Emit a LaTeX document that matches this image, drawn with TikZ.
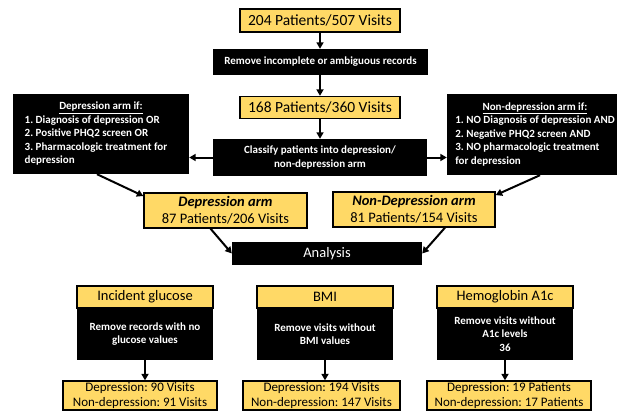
\documentclass[tikz,border=0pt]{standalone}
\usepackage{fontspec}
\setmainfont{Carlito}
\usetikzlibrary{arrows.meta,calc}
\definecolor{gold}{HTML}{FFD966}
\frenchspacing
\begin{document}
\begin{tikzpicture}[x=1pt,y=-1pt,
  ybox/.style={draw=black,line width=1.3pt,fill=gold,inner sep=0pt,align=center},
  bbox/.style={fill=black,text=white,inner sep=0pt,align=center},
  arr/.style={line width=2pt,-{Triangle[length=6.5pt,width=7pt]}},
  huge/.style={font=\fontsize{15.5}{18}\selectfont},
  big/.style={font=\fontsize{14.5}{17}\selectfont},
  small/.style={font=\fontsize{11}{13.5}\selectfont\bfseries},
  med/.style={font=\fontsize{13}{14.5}\selectfont}]
\useasboundingbox (0,0) rectangle (618,417);

\node[ybox,huge,minimum width=160pt,minimum height=23pt] (top) at (320,20.5) {204 Patients/507 Visits};
\node[bbox,small,minimum width=215pt,minimum height=26pt] (rem) at (320.5,62) {Remove incomplete or ambiguous records};
\node[ybox,huge,minimum width=160pt,minimum height=22pt] (mid) at (320,107.5) {168 Patients/360 Visits};
\node[bbox,small,minimum width=214pt,minimum height=37pt] (cls) at (320,157.5) {Classify patients into depression/\\non-depression arm};

\node[bbox,small,minimum width=176pt,minimum height=80pt] (lb) at (101,134)
  {\begin{tabular}{@{}l@{\hspace{10pt}}}
   \multicolumn{1}{@{\hspace{5pt}}c@{\hspace{5pt}}}{\underline{Depression arm if:}}\\
   1. Diagnosis of depression OR\\
   2. Positive PHQ2 screen OR\\
   3. Pharmacologic treatment for\\
   depression
   \end{tabular}};
\node[bbox,small,minimum width=170pt,minimum height=81pt] (rb) at (532,134.5)
  {\begin{tabular}{@{\hspace{6pt}}l@{}}
   \multicolumn{1}{@{\hspace{6pt}}c@{}}{\underline{Non-depression arm if:}}\\
   1. NO Diagnosis of depression AND\\
   2. Negative PHQ2 screen AND\\
   3. NO pharmacologic treatment\\
   for depression
   \end{tabular}};

\node[ybox,big,minimum width=163pt,minimum height=35pt] (dep) at (225.5,210.5) {\textbf{\textit{Depression arm}}\\87 Patients/206 Visits};
\node[ybox,big,minimum width=162pt,minimum height=35pt] (ndep) at (414,209.5) {\textbf{\textit{Non-Depression arm}}\\81 Patients/154 Visits};
\node[bbox,big,minimum width=190pt,minimum height=23pt] (ana) at (327,253.5) {Analysis};

\node[bbox,small,minimum width=136pt,minimum height=52pt] (gb) at (145,334) {Remove records with no\\glucose values};
\node[ybox,big,minimum width=136pt,minimum height=22pt] (gh) at (145,297) {Incident glucose};
\node[bbox,small,minimum width=136pt,minimum height=52pt] (bb) at (325,334) {Remove visits without\\BMI values};
\node[ybox,big,minimum width=136pt,minimum height=22pt] (bh) at (325,297) {BMI};
\node[bbox,small,minimum width=136pt,minimum height=52pt] (hb) at (505,334) {Remove visits without\\A1c levels\\36};
\node[ybox,big,minimum width=136pt,minimum height=22pt] (hh) at (505,297) {Hemoglobin A1c};

\node[ybox,med,minimum width=154pt,minimum height=29pt] (r1) at (140,395.5) {Depression: 90 Visits\\Non-depression: 91 Visits};
\node[ybox,med,minimum width=157pt,minimum height=29pt] (r2) at (321.5,395.5) {Depression: 194 Visits\\Non-depression: 147 Visits};
\node[ybox,med,minimum width=164pt,minimum height=29pt] (r3) at (509,395.5) {Depression: 19 Patients\\Non-depression: 17 Patients};

\draw[arr] (top.south) -- (top.south |- rem.north);
\draw[arr] (rem.south -| mid.north) -- (mid.north);
\draw[arr] (mid.south) -- (mid.south |- cls.north);
\draw[arr] (cls.west) -- (cls.west -| lb.east);
\draw[arr] (cls.east) -- (cls.east -| rb.west);
\draw[arr] ([xshift=-4pt]lb.south) -- (dep.170);
\draw[arr] ([xshift=8pt]rb.south) -- (ndep.10);
\draw[arr] ([xshift=-15pt]dep.south) -- (ana.west);
\draw[arr] ([xshift=31pt]ndep.south) -- (ana.east);
\draw[arr] (gb.south) -- (gb.south |- r1.north);
\draw[arr] (bb.south) -- (bb.south |- r2.north);
\draw[arr] (hb.south) -- (hb.south |- r3.north);
\end{tikzpicture}
\end{document}
